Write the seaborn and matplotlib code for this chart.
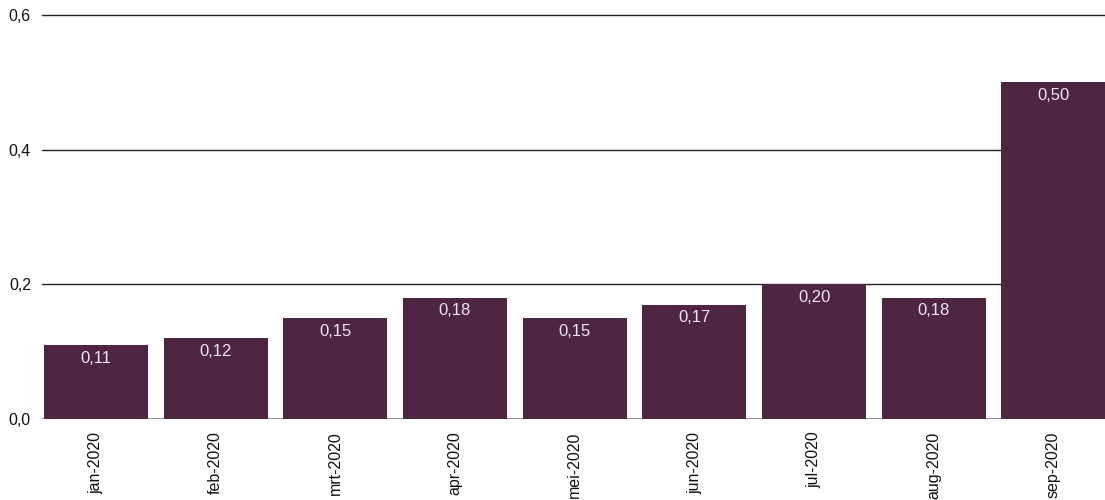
import matplotlib
matplotlib.use("Agg")
import matplotlib.pyplot as plt
import seaborn as sns
import pandas as pd

months = ["jan-2020", "feb-2020", "mrt-2020", "apr-2020", "mei-2020",
          "jun-2020", "jul-2020", "aug-2020", "sep-2020"]
values = [0.11, 0.12, 0.15, 0.18, 0.15, 0.17, 0.20, 0.18, 0.50]
y_ticks = [0.0, 0.2, 0.4, 0.6]

sns.set_theme(style="white")
plt.rcParams["font.family"] = ["Liberation Sans", "DejaVu Sans"]

df = pd.DataFrame({"maand": months, "waarde": values})

fig = plt.figure(figsize=(11.05, 5.0), dpi=100)
ax = fig.add_axes([42 / 1105, 1 - 419 / 500, 1 - 42 / 1105, (419 - 15) / 500])

bar_color = "#4f2642"
sns.barplot(data=df, x="maand", y="waarde", color=bar_color, width=0.87,
            saturation=1, linewidth=0, ax=ax, zorder=3)

ax.set_xlim(-0.45, 8.43)
ax.set_ylim(0, 0.6)
ax.set_yticks(y_ticks)
ax.set_yticklabels([f"{t:.1f}".replace(".", ",") for t in y_ticks])

for t in y_ticks[1:]:
    ax.axhline(t, color="#222222", linewidth=1.0, zorder=1, clip_on=False)
ax.axhline(0, color="#888888", linewidth=2.0, zorder=2)

for i, v in enumerate(values):
    ax.annotate(f"{v:.2f}".replace(".", ","), xy=(i, v), xytext=(0, -9.5),
                textcoords="offset points", ha="center", va="center",
                color="#ece6ee", fontsize=12, zorder=4)

ax.set_xlabel("")
ax.set_ylabel("")
for s in ax.spines.values():
    s.set_visible(False)
ax.tick_params(axis="x", labelrotation=90, length=0, pad=9, labelsize=11.5,
               labelcolor="#111111")
ax.tick_params(axis="y", length=0, pad=8, labelsize=11.5, labelcolor="#111111")
ax.grid(False)

fig.savefig("out.png", dpi=100)
